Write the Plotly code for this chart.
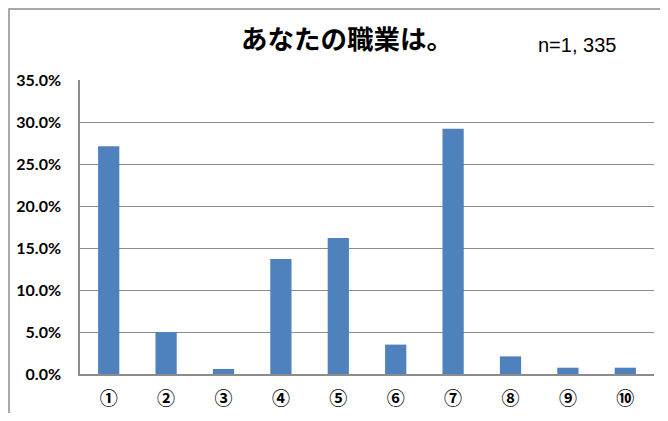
import plotly.graph_objects as go

categories = ["①", "②", "③", "④", "⑤", "⑥", "⑦", "⑧", "⑨", "⑩"]
values = [27.1, 5.0, 0.6, 13.7, 16.2, 3.5, 29.2, 2.1, 0.75, 0.75]
tick_vals = [0, 5, 10, 15, 20, 25, 30, 35]
tick_text = [f"{v:.1f}%" for v in tick_vals]
title_text = "あなたの職業は。"
n_text = "n=1, 335"

fig = go.Figure()
fig.add_trace(go.Bar(
    x=categories, y=values,
    marker=dict(color="#4F81BD", line=dict(width=0)),
    width=0.37,
))

# page has an 8px body margin, so the figure is placed at (8,8); keep it inside the window
fig.update_layout(
    width=652, height=405,
    margin=dict(l=72, r=6, t=72, b=39),
    paper_bgcolor="white", plot_bgcolor="white",
    showlegend=False,
    title=dict(text=title_text, x=0.52, xanchor="center", y=0.921, yanchor="middle",
               font=dict(family="Noto Sans CJK JP", size=26.5, color="black", weight="bold")),
    annotations=[dict(text=n_text, xref="paper", yref="paper", x=0.866, y=1.119,
                      xanchor="center", yanchor="middle", showarrow=False,
                      font=dict(family="Liberation Sans Narrow, Liberation Sans", size=20, color="black"))],
    shapes=[dict(type="rect", xref="paper", yref="paper", x0=-0.1237, x1=1.3, y0=-0.3, y1=1.2415,
                 line=dict(color="#8c8c8c", width=1.5))],
)
fig.update_xaxes(
    showline=True, linecolor="#8c8c8c", linewidth=1.5, automargin=False,
    tickfont=dict(family="Noto Sans CJK JP", size=18, color="black", weight="bold"),
    ticks="outside", ticklen=8, tickcolor="rgba(0,0,0,0)",
)
fig.update_yaxes(
    range=[0, 35], tickmode="array", tickvals=tick_vals, ticktext=tick_text,
    showgrid=True, gridcolor="#8c8c8c", gridwidth=1.2, automargin=False,
    showline=True, linecolor="#8c8c8c", linewidth=1.5,
    tickfont=dict(family="Lato", size=16, color="black", weight="bold"),
    ticks="outside", ticklen=14, tickcolor="rgba(0,0,0,0)",
    zeroline=False,
)
fig.write_html("out.html")
